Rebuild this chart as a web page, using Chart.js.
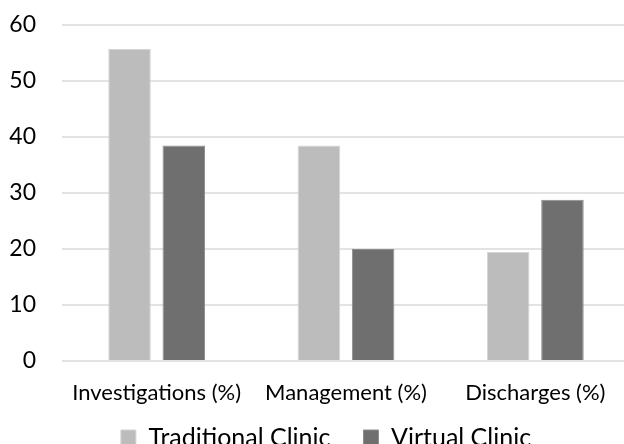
<!DOCTYPE html>
<html>
<head>
<meta charset="utf-8">
<script src="https://cdn.jsdelivr.net/npm/chart.js@4"></script>
<style>
    html, body { margin: 0; padding: 0; background: #fff; overflow: hidden; }
    #wrap { position: absolute; left: 0; top: 0; width: 632px; height: 460px; }
</style>
</head>
<body>
<div id="wrap"><canvas id="chart"></canvas></div>
<script>
// data
const categories = ["Investigations (%)", "Management (%)", "Discharges (%)"];
const traditionalClinic = [55.7, 38.5, 19.5];
const virtualClinic = [38.5, 20, 28.8];
const yTicks = [0, 10, 20, 30, 40, 50, 60];

const FONT = "Lato, 'Open Sans', sans-serif";

// tick labels sit outside their (narrow) axis boxes, so widen the clip areas
const unclipLabels = {
    id: "unclipLabels",
    beforeDraw(chart) {
        chart.scales.x.bottom = chart.height;
        chart.scales.y.left = 0;
    }
};

new Chart(document.getElementById("chart").getContext("2d"), {
    type: "bar",
    data: {
        labels: categories,
        datasets: [
            {
                label: "Traditional Clinic",
                data: traditionalClinic,
                backgroundColor: "#bbbcbb",
                borderColor: "#d4d4d4",
                borderWidth: 1
            },
            {
                label: "Virtual Clinic",
                data: virtualClinic,
                backgroundColor: "#6f6f6f",
                borderColor: "#8c8c8c",
                borderWidth: 1
            }
        ]
    },
    options: {
        responsive: true,
        maintainAspectRatio: false,
        animation: false,
        datasets: {
            bar: { categoryPercentage: 0.573, barPercentage: 0.784 }
        },
        layout: { padding: { top: 25, right: 2, left: 22, bottom: 0 } },
        scales: {
            x: {
                afterFit: scale => {
                    scale.height = 31;
                    scale.paddingLeft = 0;
                    scale.paddingRight = 0;
                },
                grid: { display: false, drawTicks: false },
                border: { display: false },
                ticks: {
                    color: "#000",
                    font: { family: FONT, size: 22 },
                    padding: 19,
                    maxRotation: 0
                }
            },
            y: {
                min: 0,
                max: 60,
                afterFit: scale => {
                    // fixed axis width; tick padding should not push the plot down
                    scale.width = 40;
                    scale.paddingTop = 0;
                    scale.paddingBottom = 0;
                },
                afterBuildTicks: scale => {
                    scale.ticks = yTicks.map(v => ({ value: v }));
                },
                grid: { color: "#e3e3e3", lineWidth: 2, drawTicks: false },
                border: { display: false },
                ticks: {
                    color: "#000",
                    font: { family: FONT, size: 23 },
                    padding: 26
                }
            }
        },
        plugins: {
            tooltip: { enabled: false },
            legend: {
                position: "bottom",
                labels: {
                    color: "#000",
                    font: { family: FONT, size: 25 },
                    boxWidth: 15,
                    boxHeight: 15,
                    padding: 33
                }
            }
        }
    },
    plugins: [unclipLabels]
});
</script>
</body>
</html>
